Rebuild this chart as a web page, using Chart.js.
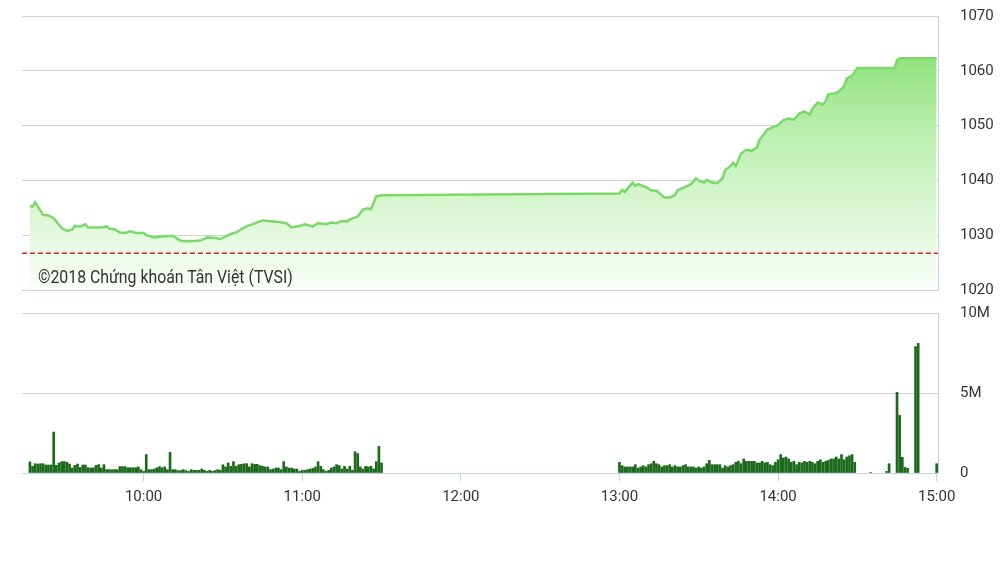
<!DOCTYPE html>
<html>
<head>
<meta charset="utf-8">
<script src="https://cdn.jsdelivr.net/npm/chart.js@4.4.1/dist/chart.umd.min.js"></script>
<style>
  html, body { margin: 0; padding: 0; background: #fff; }
  #wrap { position: relative; width: 1007px; height: 566px; overflow: hidden; }
  #priceChart { position: absolute; left: 0; top: 0; }
  #volChart { position: absolute; left: 0; top: 300px; }
  #copy {
    position: absolute; left: 38px; top: 266px;
    font: 18px Roboto, "Open Sans", sans-serif; color: #333;
    transform: scaleX(0.88); transform-origin: left top; white-space: nowrap;
  }
</style>
</head>
<body>
<div id="wrap">
  <canvas id="priceChart" width="1007" height="300"></canvas>
  <canvas id="volChart" width="1007" height="210"></canvas>
  <div id="copy">©2018 Chứng khoán Tân Việt (TVSI)</div>
</div>
<script>
// ==== data ====
const refPrice = 1026.7; // tham chiếu (dashed red)

const priceTimes = [
  "9:17","9:18","9:19","9:20","9:22","9:24","9:26","9:27","9:29","9:31",
  "9:33","9:34","9:36","9:37","9:38","9:39","9:41","9:44","9:46","9:47",
  "9:49","9:51","9:53","9:55","9:57","10:00","10:01","10:04","10:08","10:11",
  "10:14","10:17","10:20","10:22","10:24","10:27","10:29","10:32","10:34","10:35",
  "10:38","10:39","10:45","10:51","10:54","10:56","10:59","11:01","11:04","11:06",
  "11:09","11:11","11:13","11:15","11:17","11:18","11:21","11:23","11:25","11:26",
  "11:28","11:30",
  "13:00","13:01","13:02","13:05","13:06","13:07","13:10","13:12","13:14","13:17",
  "13:19","13:21","13:22","13:25","13:27","13:29","13:30","13:32","13:33","13:35",
  "13:37","13:39","13:40","13:42","13:43","13:44","13:46","13:48","13:50","13:52",
  "13:53","13:56","13:58","14:00","14:02","14:04","14:06","14:08","14:10","14:12",
  "14:13","14:15","14:17","14:18","14:19","14:21","14:23","14:25","14:26","14:28",
  "14:30","14:44","14:45","14:46","15:00"
];
const priceValues = [
  1035.4,1035.2,1036.0,1035.2,1033.7,1033.6,1033.1,1032.5,1031.3,1030.8,
  1031.0,1031.7,1031.6,1031.8,1032.0,1031.4,1031.4,1031.4,1031.6,1031.2,
  1031.1,1030.5,1030.4,1030.7,1030.4,1030.4,1030.0,1029.6,1029.8,1029.9,
  1029.0,1028.9,1029.0,1029.1,1029.6,1029.5,1029.3,1030.0,1030.4,1030.5,
  1031.4,1031.6,1032.7,1032.4,1032.2,1031.4,1031.7,1032.0,1031.6,1032.2,
  1032.0,1032.3,1032.2,1032.6,1032.5,1032.9,1033.4,1034.7,1034.9,1034.7,
  1037.1,1037.3,
  1037.6,1038.3,1037.9,1039.6,1039.0,1039.3,1038.8,1038.2,1038.1,1036.9,
  1036.9,1037.3,1038.2,1038.8,1039.3,1040.4,1040.0,1039.6,1040.1,1039.6,
  1039.5,1040.4,1041.9,1042.6,1043.2,1042.6,1044.9,1045.6,1045.4,1046.0,
  1047.4,1049.3,1049.7,1050.1,1051.0,1051.3,1051.1,1052.2,1052.6,1052.0,
  1053.1,1054.2,1053.8,1054.5,1055.7,1055.8,1056.2,1057.2,1058.6,1059.1,
  1060.5,1060.5,1061.9,1062.3,1062.3
];

// khối lượng (triệu cp) theo phút
const amStart = "9:17";
const amVolume = [
  0.69,0.42,0.58,0.56,0.58,0.58,0.50,0.50,0.50,2.56,
  0.48,0.63,0.71,0.71,0.67,0.56,0.31,0.48,0.56,0.35,
  0.50,0.50,0.33,0.31,0.33,0.48,0.52,0.31,0.52,0.21,
  0.21,0.21,0.21,0.21,0.40,0.40,0.40,0.33,0.33,0.33,
  0.33,0.38,0.21,0.10,1.15,0.21,0.21,0.25,0.33,0.40,
  0.33,0.38,0.21,1.29,0.21,0.21,0.15,0.15,0.21,0.15,
  0.10,0.21,0.17,0.17,0.17,0.25,0.17,0.10,0.17,0.10,
  0.15,0.21,0.17,0.52,0.38,0.63,0.42,0.71,0.42,0.52,
  0.54,0.58,0.58,0.38,0.58,0.54,0.54,0.46,0.42,0.38,
  0.38,0.21,0.25,0.31,0.31,0.21,0.71,0.38,0.31,0.31,
  0.25,0.25,0.10,0.17,0.17,0.21,0.25,0.29,0.38,0.71,
  0.42,0.21,0.10,0.17,0.31,0.38,0.52,0.46,0.25,0.42,
  0.25,0.42,0.17,1.33,1.21,0.38,0.25,0.42,0.38,0.42,
  0.25,0.71,1.67,0.63
];
const pmStart = "13:00";
const pmVolume = [
  0.67,0.46,0.38,0.38,0.38,0.38,0.52,0.31,0.38,0.46,
  0.38,0.52,0.58,0.73,0.58,0.52,0.38,0.46,0.46,0.52,
  0.38,0.46,0.38,0.38,0.46,0.52,0.38,0.38,0.38,0.31,
  0.38,0.31,0.38,0.58,0.79,0.52,0.52,0.52,0.52,0.31,
  0.46,0.38,0.46,0.52,0.67,0.73,0.58,0.88,0.73,0.73,
  0.73,0.73,0.63,0.63,0.73,0.63,0.67,0.52,0.46,0.67,
  0.83,1.15,0.94,1.00,0.88,0.67,0.73,0.52,0.67,0.63,
  0.73,0.67,0.73,0.67,0.58,0.73,0.83,0.67,0.73,0.79,
  0.88,0.88,1.00,0.88,1.15,0.83,1.00,1.08,1.15,0.67
];
const lateTimes  = ["14:35","14:41","14:42","14:45","14:46","14:47","14:48","14:49","14:52","14:53","15:00"];
const lateVolume = [0.03, 0.10, 0.58, 5.04, 3.60, 0.98, 0.35, 0.30, 7.90, 8.10, 0.58];

const hourTicks = ["10:00","11:00","12:00","13:00","14:00","15:00"];
const priceTicks = [1020, 1030, 1040, 1050, 1060, 1070];
const volTicks = [0, 5, 10];

// ==== helpers ====
const toMin = s => { const [h, m] = s.split(":").map(Number); return h * 60 + m; };
const fmtMin = v => { const h = Math.floor(v / 60), m = Math.round(v % 60); return (h < 10 ? "0" + h : h) + ":" + (m < 10 ? "0" + m : m); };

const X_MIN = 554, X_MAX = 900.5;
const FONT = { family: "Roboto, 'Open Sans', sans-serif", size: 15 };
const AXIS_COLOR = "#c5d2e2";
const GRID_COLOR = "#d2d2d2";

const pricePts = priceTimes.map((t, i) => ({ x: toMin(t), y: priceValues[i] }));
const refPts = [{ x: X_MIN, y: refPrice }, { x: X_MAX, y: refPrice }];

const volPts = [];
amVolume.forEach((v, i) => volPts.push({ x: toMin(amStart) + i, y: v }));
pmVolume.forEach((v, i) => volPts.push({ x: toMin(pmStart) + i, y: v }));
lateTimes.forEach((t, i) => volPts.push({ x: toMin(t), y: lateVolume[i] }));

function areaGradient(ctx) {
  const area = ctx.chart.chartArea;
  if (!area) return "rgba(140,225,120,0.5)";
  const g = ctx.chart.ctx.createLinearGradient(0, area.top, 0, area.bottom);
  g.addColorStop(0, "rgb(122,220,100)");
  g.addColorStop(0.45, "rgb(190,240,178)");
  g.addColorStop(1, "rgb(250,254,249)");
  return g;
}

// right-hand value axis: label gap done with an invisible tick mark
// (ticks.padding would also pad the top/bottom of the plot)
function rightAxis(min, max, list, fmt) {
  return {
    position: "right", min, max,
    afterBuildTicks: s => { s.ticks = list.map(v => ({ value: v })); },
    afterFit: s => { s.width = 69; },
    ticks: { font: FONT, color: "#333", padding: 0, callback: fmt },
    grid: { color: GRID_COLOR, drawTicks: true, tickLength: 22, tickColor: "rgba(0,0,0,0)" },
    border: { color: AXIS_COLOR }
  };
}

// ==== giá ====
new Chart(document.getElementById("priceChart"), {
  type: "line",
  data: {
    datasets: [
      { data: refPts, borderColor: "#d8242b", borderWidth: 1.5, borderDash: [5, 3], pointRadius: 0, fill: false, order: 0 },
      { data: pricePts, borderColor: "#7ad968", borderWidth: 2.5, pointRadius: 0, tension: 0, fill: "start", backgroundColor: areaGradient, order: 1 }
    ]
  },
  options: {
    responsive: false,
    animation: false,
    layout: { padding: { left: 22, top: 16, bottom: 10, right: 0 } },
    plugins: { legend: { display: false }, tooltip: { enabled: false } },
    scales: {
      x: { type: "linear", min: X_MIN, max: X_MAX, display: false },
      y: rightAxis(1020, 1070, priceTicks, v => String(v))
    }
  }
});

// ==== khối lượng ====
new Chart(document.getElementById("volChart"), {
  type: "bar",
  data: {
    datasets: [{ data: volPts, backgroundColor: "#1b6a1b", barThickness: 2, borderWidth: 0 }]
  },
  options: {
    responsive: false,
    animation: false,
    layout: { padding: { left: 22, top: 13, bottom: 0, right: 0 } },
    plugins: { legend: { display: false }, tooltip: { enabled: false } },
    scales: {
      x: {
        type: "linear", min: X_MIN, max: X_MAX, offset: false,
        afterBuildTicks: s => { s.ticks = hourTicks.map(t => ({ value: toMin(t) })); },
        afterFit: s => { s.height = 37; },
        ticks: { font: FONT, color: "#333", padding: 7, maxRotation: 0, callback: v => fmtMin(v) },
        grid: { offset: false, drawOnChartArea: false, drawTicks: true, tickLength: 8, color: AXIS_COLOR },
        border: { color: AXIS_COLOR }
      },
      y: rightAxis(0, 10, volTicks, v => (v === 0 ? "0" : v + "M"))
    }
  }
});
</script>
</body>
</html>
